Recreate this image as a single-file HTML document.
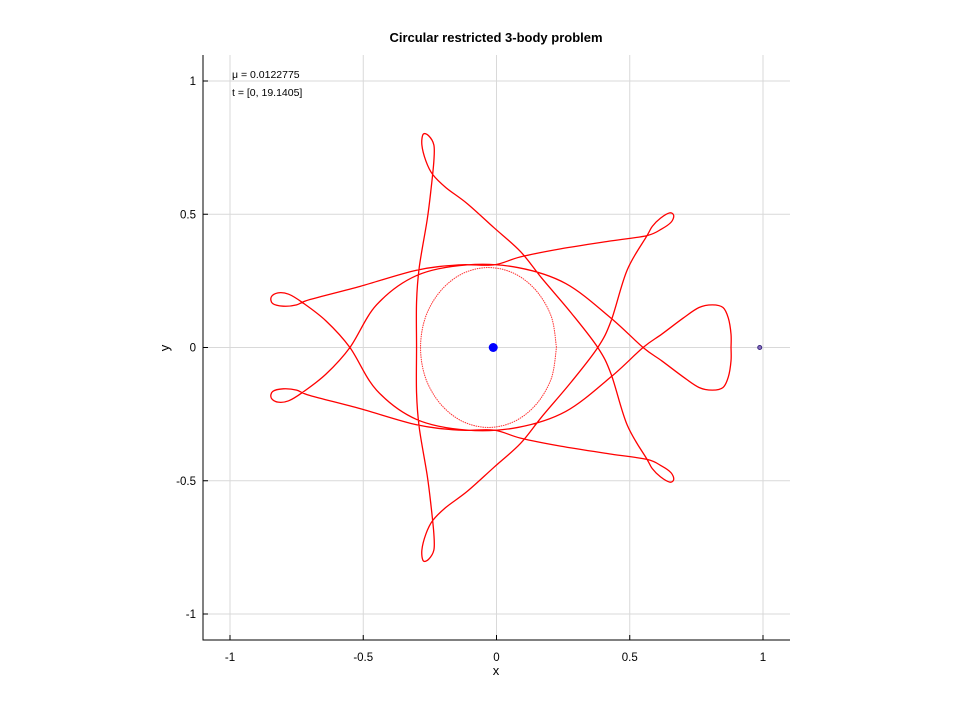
<!DOCTYPE html>
<html><head><meta charset="utf-8"><style>
html,body{margin:0;padding:0;background:#fff;}
svg{display:block;font-family:"Liberation Sans",sans-serif;}
</style></head><body>
<svg id="chart" width="960" height="720">
<rect width="960" height="720" fill="#fff"/>
<text x="496" y="42" text-anchor="middle" font-size="13" font-weight="bold" fill="#000">Circular restricted 3-body problem</text>
<g id="grid"></g>
<g id="plot"></g>
<g id="axes"></g>
<text x="232" y="78" font-size="10.5" fill="#000">μ = 0.0122775</text>
<text x="232" y="96" font-size="10.5" fill="#000">t = [0, 19.1405]</text>
<text x="496" y="675" text-anchor="middle" font-size="13" fill="#000">x</text>
<text x="169" y="348" text-anchor="middle" font-size="13" fill="#000" transform="rotate(-90 169 348)">y</text>
</svg>
<script>
const xTicks = [-1, -0.5, 0, 0.5, 1];
const yTicks = [-1, -0.5, 0, 0.5, 1];
const xTickLabels = ["-1", "-0.5", "0", "0.5", "1"];
const yTickLabels = ["-1", "-0.5", "0", "0.5", "1"];
const mu = 0.0122775;
const orbitX = [0.88,0.88,0.87,0.85,0.81,0.76,0.70,0.62,0.55,0.43,0.26,0.08,-0.11,-0.30,-0.45,-0.55,-0.64,-0.73,-0.78,-0.82,-0.845,-0.84,-0.80,-0.75,-0.70,-0.51,-0.30,-0.14,-0.01,0.09,0.24,0.43,0.565,0.62,0.655,0.665,0.65,0.615,0.585,0.565,0.49,0.43,0.38,
0.28,0.17,0.09,-0.01,-0.11,-0.19,-0.24,-0.265,-0.28,-0.275,-0.255,-0.235,-0.235,-0.245,-0.26,-0.29,-0.30,-0.30,-0.30,-0.29,-0.26,-0.245,-0.235,-0.235,-0.255,-0.275,-0.28,-0.265,-0.24,-0.19,-0.11,-0.01,0.09,0.17,0.28,0.38,
0.43,0.49,0.565,0.585,0.615,0.65,0.665,0.655,0.62,0.565,0.43,0.24,0.09,-0.01,-0.14,-0.30,-0.51,-0.70,-0.75,-0.80,-0.84,-0.845,-0.82,-0.78,-0.73,-0.64,-0.55,-0.45,-0.30,-0.11,0.08,0.26,0.43,0.55,0.62,0.70,0.76,0.81,0.85,0.87,0.88,0.88];
const orbitY = [0,0.05,0.11,0.15,0.16,0.15,0.11,0.05,0,-0.11,-0.24,-0.30,-0.31,-0.27,-0.16,0,0.10,0.17,0.20,0.205,0.19,0.165,0.155,0.16,0.18,0.23,0.29,0.31,0.31,0.34,0.37,0.40,0.42,0.445,0.47,0.495,0.505,0.485,0.455,0.42,0.29,0.10,0,
-0.13,-0.26,-0.36,-0.45,-0.54,-0.60,-0.65,-0.70,-0.76,-0.80,-0.795,-0.76,-0.70,-0.60,-0.48,-0.30,-0.17,0,0.17,0.30,0.48,0.60,0.70,0.76,0.795,0.80,0.76,0.70,0.65,0.60,0.54,0.45,0.36,0.26,0.13,0,
-0.10,-0.29,-0.42,-0.455,-0.485,-0.505,-0.495,-0.47,-0.445,-0.42,-0.40,-0.37,-0.34,-0.31,-0.31,-0.29,-0.23,-0.18,-0.16,-0.155,-0.165,-0.19,-0.205,-0.20,-0.17,-0.10,0,0.16,0.27,0.31,0.30,0.24,0.11,0,-0.05,-0.11,-0.15,-0.16,-0.15,-0.11,-0.05,0];
const orbitInnerX = [0.225,0.206,0.150,0.068,-0.03,-0.128,-0.210,-0.266,-0.285,-0.266,-0.210,-0.128,-0.03,0.068,0.150,0.206,0.225];
const orbitInnerY = [0,0.115,0.212,0.277,0.30,0.277,0.212,0.115,0,-0.115,-0.212,-0.277,-0.30,-0.277,-0.212,-0.115,0];

const NS = "http://www.w3.org/2000/svg";
const sx = v => 496.5 + v * 266.5;
const sy = v => 347.5 - v * 266.5;
const L = 203, R = 790, T = 55, B = 640;
function mk(tag, attrs, parent) {
  const e = document.createElementNS(NS, tag);
  for (const k in attrs) e.setAttribute(k, attrs[k]);
  parent.appendChild(e);
  return e;
}
const grid = document.getElementById('grid');
const axes = document.getElementById('axes');
const plot = document.getElementById('plot');
xTicks.forEach((v, i) => {
  const g = mk('line', {x1: sx(v), x2: sx(v), y1: T, y2: B, stroke: '#d9d9d9', 'stroke-width': 1}, grid);
  
  
  const t = mk('line', {x1: sx(v), x2: sx(v), y1: B, y2: B - 5, stroke: '#000', 'stroke-width': 1}, axes);
  
  
  const lb = mk('text', {x: sx(v), y: B + 21, 'text-anchor': 'middle', 'font-size': 11.5, fill: '#000'}, axes);
  lb.textContent = xTickLabels[i];
  
  
});
yTicks.forEach((v, i) => {
  const g = mk('line', {x1: L, x2: R, y1: sy(v), y2: sy(v), stroke: '#d9d9d9', 'stroke-width': 1}, grid);
  
  
  const t = mk('line', {x1: L, x2: L + 5, y1: sy(v), y2: sy(v), stroke: '#000', 'stroke-width': 1}, axes);
  
  
  const lb = mk('text', {x: L - 7, y: sy(v) + 4, 'text-anchor': 'end', 'font-size': 11.5, fill: '#000'}, axes);
  lb.textContent = yTickLabels[i];
  
  
});
const sp = mk('path', {d: `M${L} ${T}V${B}H${R}`, fill: 'none', stroke: '#000', 'stroke-width': 1}, axes);



function smoothPath(xs, ys) {
  const p = xs.map((x, i) => [sx(x), sy(ys[i])]);
  let d = `M${p[0][0].toFixed(2)} ${p[0][1].toFixed(2)}`;
  for (let i = 0; i < p.length - 1; i++) {
    const p0 = p[Math.max(0, i - 1)], p1 = p[i], p2 = p[i + 1], p3 = p[Math.min(p.length - 1, i + 2)];
    const c1 = [p1[0] + (p2[0] - p0[0]) / 6, p1[1] + (p2[1] - p0[1]) / 6];
    const c2 = [p2[0] - (p3[0] - p1[0]) / 6, p2[1] - (p3[1] - p1[1]) / 6];
    d += `C${c1[0].toFixed(2)} ${c1[1].toFixed(2)} ${c2[0].toFixed(2)} ${c2[1].toFixed(2)} ${p2[0].toFixed(2)} ${p2[1].toFixed(2)}`;
  }
  return d;
}
const o1 = mk('path', {d: smoothPath(orbitX, orbitY), fill: 'none', stroke: '#ff0000', 'stroke-width': 1.3, 'stroke-linejoin': 'round'}, plot);


const o3 = mk('path', {d: smoothPath(orbitInnerX, orbitInnerY), fill: 'none', stroke: '#ff3030', 'stroke-width': 1, 'stroke-dasharray': '1.5 0.8'}, plot);


const earth = mk('circle', {cx: sx(-mu), cy: sy(0), r: 4.5, fill: '#0000ff'}, plot);


const moon = mk('circle', {cx: sx(1 - mu), cy: sy(0), r: 2, fill: '#8a6fc0', stroke: '#3a2a80', 'stroke-width': 1}, plot);


</script>
</body></html>
